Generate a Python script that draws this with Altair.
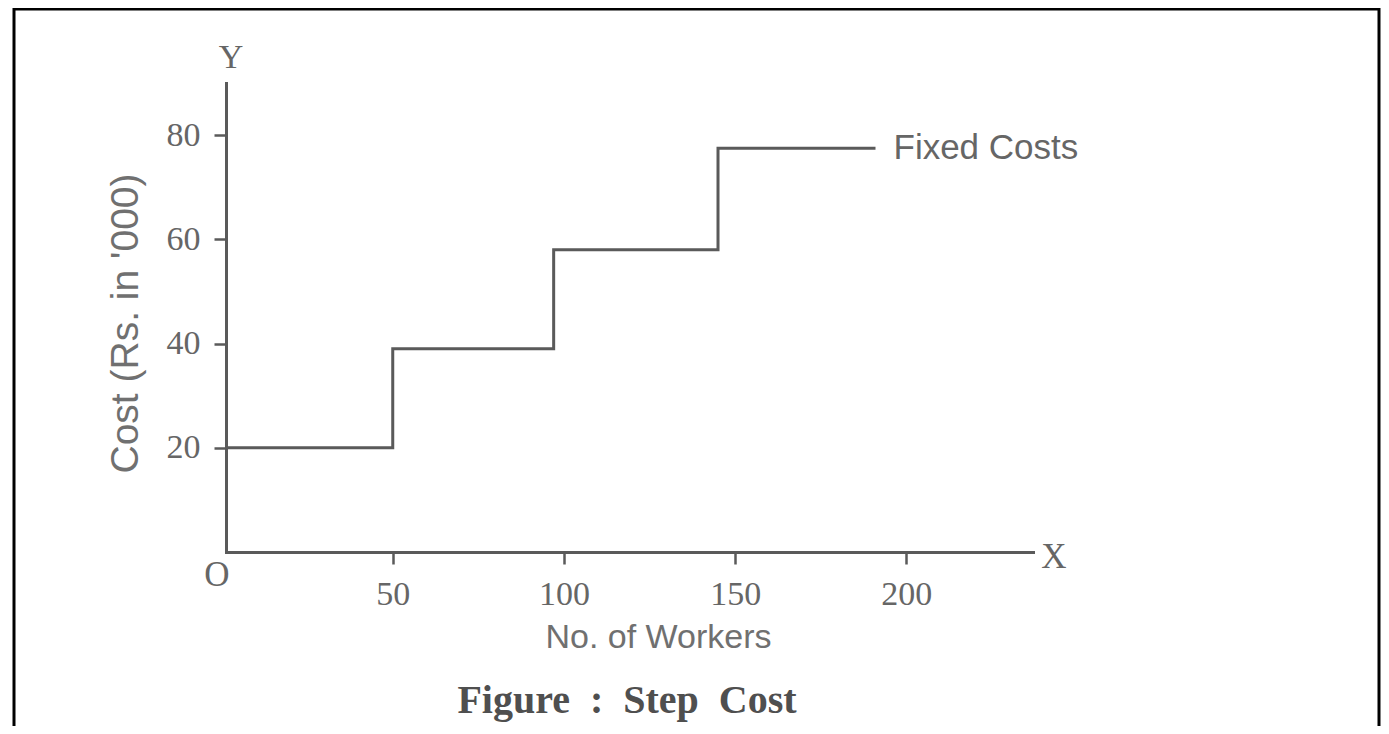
import altair as alt
import pandas as pd

# Data
workers = [0, 50, 97, 145, 191]
cost = [20, 39, 58, 77.5, 77.5]
x_ticks = [50, 100, 150, 200]
y_ticks = [20, 40, 60, 80]
series_label = "Fixed Costs"

df = pd.DataFrame({"workers": workers, "cost": cost})
end_df = pd.DataFrame({"workers": [workers[-1]], "cost": [cost[-1]], "label": [series_label]})
one = pd.DataFrame({"a": [0]})

GRAY = "#5a5a5a"
LABEL = "#666666"

xscale = alt.Scale(domain=[1.3, 237], zero=False, nice=False)
yscale = alt.Scale(domain=[0, 90], nice=False)

line = alt.Chart(df).mark_line(
    interpolate="step-after", color=GRAY, strokeWidth=3, clip=True
).encode(
    x=alt.X("workers:Q", scale=xscale, axis=alt.Axis(
        values=x_ticks, grid=False, domainColor=GRAY, domainWidth=3, domainCap="square",
        tickColor=GRAY, tickWidth=2.5, tickSize=12,
        labelFont="Liberation Serif", labelFontSize=34, labelColor=LABEL, labelPadding=13,
        title="No. of Workers", titleFont="Liberation Sans", titleFontSize=34,
        titleFontWeight="normal", titleColor="#707070",
        titleX=432, titleY=95, titleBaseline="alphabetic", titleAlign="center",
    )),
    y=alt.Y("cost:Q", scale=yscale, axis=alt.Axis(
        values=y_ticks, grid=False, domainColor=GRAY, domainWidth=3, domainCap="square",
        tickColor=GRAY, tickWidth=2.5, tickSize=12,
        labelFont="Liberation Serif", labelFontSize=34, labelColor=LABEL, labelPadding=14,
        title="Cost (Rs. in '000)", titleFont="Liberation Sans", titleFontSize=39,
        titleFontWeight="normal", titleColor="#707070",
        titleX=-101, titleY=240, titleBaseline="middle", titleAlign="center", titleAngle=270,
    )),
)

label = alt.Chart(end_df).mark_text(
    align="left", baseline="middle", dx=18, font="Liberation Sans", fontSize=35, color=LABEL
).encode(x=alt.X("workers:Q", scale=xscale), y=alt.Y("cost:Q", scale=yscale), text="label:N")

border = alt.Chart(one).mark_rect(filled=False, stroke="black", strokeWidth=3).encode(
    x=alt.value(-212), x2=alt.value(1153), y=alt.value(-74), y2=alt.value(657)
)

def note(txt, x, y, size=34, font="Liberation Serif", color=LABEL):
    return alt.Chart(one).mark_text(
        text=txt, align="center", baseline="middle", font=font, fontSize=size, color=color
    ).encode(x=alt.value(x), y=alt.value(y))

y_letter = note("Y", 5, -25)
x_letter = note("X", 828, 474, size=35)
o_letter = note("O", -9, 492, size=35)
title = alt.Chart(one).mark_text(
    text="Figure\u00a0 :\u00a0 Step\u00a0 Cost", align="center", baseline="alphabetic",
    font="Liberation Serif", fontSize=40, fontWeight="bold", color="#4f4f4f"
).encode(x=alt.value(401), y=alt.value(630))

chart = alt.layer(border, line, label, y_letter, x_letter, o_letter, title).properties(
    width=807, height=469,
    autosize=alt.AutoSizeParams(type="none"),
    padding={"left": 218, "top": 75, "right": 348, "bottom": 174},
    background="white",
).configure_view(strokeWidth=0)

chart.save("out.html", embed_options={"renderer": "svg", "actions": False})
